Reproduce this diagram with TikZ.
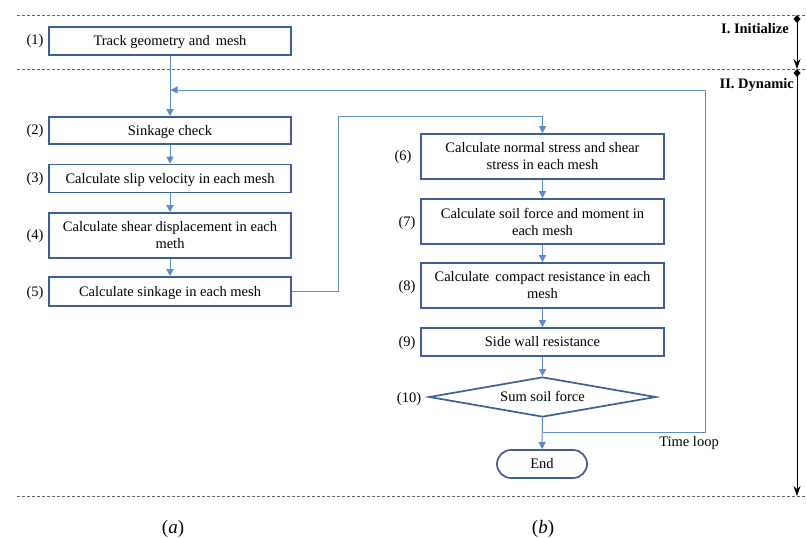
\documentclass[tikz,border=0pt]{standalone}
\usepackage{fontspec}
\setmainfont{Liberation Serif}
\usetikzlibrary{shapes.geometric,shapes.misc,arrows.meta}
\definecolor{boxc}{HTML}{3C6096}
\definecolor{linec}{HTML}{5B8CCB}
\definecolor{dashc}{HTML}{606060}
\begin{document}
\begin{tikzpicture}[x=1pt,y=-1pt,
  every node/.style={font=\fontsize{14.5}{17}\selectfont},
  box/.style={draw=boxc, line width=1.7pt, fill=white, align=center, inner sep=0pt},
  one/.style={text height=12.5pt, text depth=3pt},
  lbox/.style={box, minimum width=242pt},
  rbox/.style={box, minimum width=243pt},
  arr/.style={draw=linec, line width=1pt, -{Triangle[width=7pt,length=7pt]}},
  sep/.style={draw=dashc, line width=0.8pt, dash pattern=on 3pt off 2pt},
  num/.style={inner sep=0pt},
  blk/.style={draw=black, line width=1pt, {Diamond[width=7pt,length=8pt]}-{Stealth[width=7pt,length=10pt]}}
]
\useasboundingbox (0,0) rectangle (807,538);

% separators
\coordinate (s1a) at (17,15);  \coordinate (s1b) at (807,15);
\coordinate (s2a) at (17,69);  \coordinate (s2b) at (807,69);
\coordinate (s3a) at (17,496); \coordinate (s3b) at (807,496);
\draw[sep] (s1a) -- (s1b);
\draw[sep] (s2a) -- (s2b);
\draw[sep] (s3a) -- (s3b);

% phase markers
\coordinate (p1) at (797,15);
\coordinate (p2) at (797,69);
\coordinate (p3) at (797,496);
\draw[blk] (p1) -- (p2);
\draw[blk] (p2) -- (p3);
\node[anchor=east, font=\fontsize{14.5}{17}\selectfont\bfseries, inner sep=0pt] (t1) at (789,29) {I. Initialize};
\node[anchor=east, font=\fontsize{14.5}{17}\selectfont\bfseries, inner sep=0pt] (t2) at (794,85) {II. Dynamic};

% left column
\node[lbox, one, minimum height=28pt] (b1) at (170,41) {Track geometry and\, mesh};
\node[lbox, one, minimum height=27pt] (b2) at (170,130.5) {Sinkage check};
\node[lbox, one, minimum height=28pt] (b3) at (170,178.5) {Calculate slip velocity in each mesh};
\node[lbox, minimum height=45pt] (b4) at (170,235.5) {Calculate shear displacement in each\\meth};
\node[lbox, one, minimum height=29pt] (b5) at (170,291.5) {Calculate sinkage in each mesh};

\node[num] (n1) at (35,41) {(1)};
\node[num] (n2) at (35,131) {(2)};
\node[num] (n3) at (35,179) {(3)};
\node[num] (n4) at (35,236) {(4)};
\node[num] (n5) at (35,293) {(5)};

% right column
\node[rbox, minimum height=45pt] (b6) at (542.5,156.5) {Calculate normal stress and shear\\stress in each mesh};
\node[rbox, minimum height=45pt] (b7) at (542.5,221.5) {Calculate soil force and moment in\\each mesh};
\node[rbox, minimum height=45pt] (b8) at (542.5,285.5) {Calculate\, compact resistance in each\\mesh};
\node[rbox, one, minimum height=28pt] (b9) at (542.5,342) {Side wall resistance};
\node[diamond, one, draw=boxc, line width=1.7pt, fill=white, inner sep=0pt, aspect=5.6,
      minimum width=227pt, minimum height=40pt] (b10) at (542.5,397) {Sum soil force};
\node[rounded rectangle, one, draw=boxc, line width=1.7pt, fill=white, inner sep=0pt,
      minimum width=90pt, minimum height=28pt] (end) at (542,464) {End};

\node[num] (n6) at (403,157) {(6)};
\node[num] (n7) at (407,223) {(7)};
\node[num] (n8) at (407,287) {(8)};
\node[num] (n9) at (407,343) {(9)};
\node[num] (n10) at (409,399) {(10)};

\node[num] (tl) at (689,443) {Time loop};

% connectors
\draw[arr] (b1) -- (b2);
\draw[arr] (b2) -- (b3);
\draw[arr] (b3) -- (b4);
\draw[arr] (b4) -- (b5);
\coordinate (k1) at (338,116);
\draw[arr] (b5.east) -| (k1) -| (b6.north);
\draw[arr] (b6) -- (b7);
\draw[arr] (b7) -- (b8);
\draw[arr] (b8) -- (b9);
\draw[arr] (b9) -- (b10);
\draw[arr] (b10) -- (end);
\coordinate (j1) at (542.5,432);
\coordinate (j2) at (705,90);
\coordinate (j3) at (170.5,90);
\draw[arr] (j1) -| (j2) -- (j3);

% captions
\node[num, font=\fontsize{19}{22}\selectfont] (ca) at (173,529) {(\textit{a})};
\node[num, font=\fontsize{19}{22}\selectfont] (cb) at (543,529) {(\textit{b})};
\end{tikzpicture}
\end{document}
